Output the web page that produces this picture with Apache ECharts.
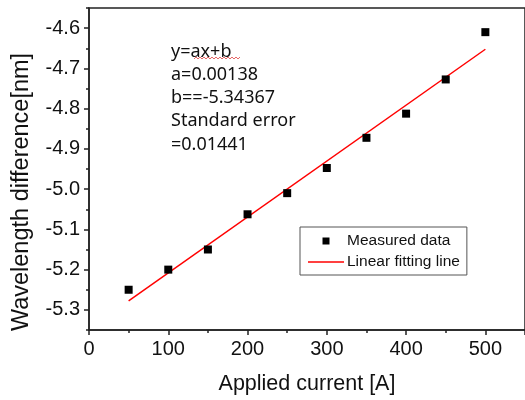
<!DOCTYPE html>
<html>
<head>
<meta charset="utf-8">
<script src="https://cdn.jsdelivr.net/npm/echarts@6/dist/echarts.min.js"></script>
<style>
  html, body { margin: 0; padding: 0; background: #fff; }
  #chart { width: 525px; height: 400px; }
</style>
</head>
<body>
<div id="chart"></div>
<script>
// measured points
const currents = [50, 100, 150, 200, 250, 300, 350, 400, 450, 500]
const wavelengthDiff = [-5.25, -5.20, -5.15, -5.0625, -5.01, -4.9475, -4.8725, -4.8125, -4.7275, -4.61]
// fitted line end points
const fitX = [50, 500]
const fitY = [-5.2775, -4.6525]
const yTicks = [-5.3, -5.2, -5.1, -5.0, -4.9, -4.8, -4.7, -4.6]
const fitText = ['y=ax+b', 'a=0.00138', 'b==-5.34367', 'Standard error', '=0.01441']

const chart = echarts.init(document.getElementById('chart'))

const axisFont = { color: '#111', fontSize: 20, fontFamily: 'Liberation Sans' }
const tickStyle = { color: '#222', width: 1.5 }

// spell-check squiggle under "ax+b"
const squiggle = []
for (let x = 194; x <= 240; x += 2) squiggle.push([x, (x / 2) % 2 === 0 ? 57 : 59])

chart.setOption({
  animation: false,
  grid: {
    left: 89,
    right: -4,
    top: 8,
    bottom: 69,
    show: true,
    borderColor: '#222',
    borderWidth: 1.5,
  },
  legend: {
    orient: 'vertical',
    left: 300,
    top: 227,
    padding: [6, 7, 5, 8],
    itemGap: 5,
    itemWidth: 36,
    itemHeight: 14,
    borderColor: '#555',
    borderWidth: 1,
    textStyle: { color: '#111', fontSize: 15.5, fontFamily: 'Liberation Sans', padding: [0, 0, 0, -2] },
    data: [
      { name: 'Measured data', icon: 'path://M0,0 M36,14 M14.5,3.5 L21.5,3.5 L21.5,10.5 L14.5,10.5 Z' },
      { name: 'Linear fitting line', icon: 'path://M0,0 M36,14 M0,6.2 L36,6.2 L36,7.8 L0,7.8 Z' },
    ],
  },
  xAxis: {
    type: 'value',
    min: 0,
    max: 550,
    interval: 100,
    name: 'Applied current [A]',
    nameLocation: 'middle',
    nameGap: 43,
    nameTextStyle: { color: '#111', fontSize: 21.5, fontFamily: 'Liberation Sans' },
    axisLine: { lineStyle: tickStyle },
    axisTick: { length: 5, lineStyle: tickStyle },
    minorTick: { show: true, splitNumber: 2, length: 3, lineStyle: tickStyle },
    axisLabel: { ...axisFont, margin: 9, showMaxLabel: false },
    splitLine: { show: false },
  },
  yAxis: [
    {
      type: 'value',
      min: -5.35,
      max: -4.55,
      interval: 0.05,
      name: 'Wavelength difference[nm]',
      nameLocation: 'middle',
      nameGap: 55,
      nameTextStyle: { color: '#111', fontSize: 23.5, fontFamily: 'Liberation Sans', padding: [0, 46, 0, 0] },
      axisLine: { lineStyle: tickStyle },
      axisTick: { length: 5, lineStyle: tickStyle, customValues: yTicks },
      axisLabel: {
        ...axisFont,
        margin: 9,
        customValues: yTicks,
        formatter: v => {
          const r = Math.round(v * 10) / 10
          if (Math.abs(v - r) > 1e-6) return ''
          return r.toFixed(1)
        },
      },
      splitLine: { show: false },
    },
    {
      // minor ticks every 0.05
      type: 'value',
      min: -5.35,
      max: -4.55,
      interval: 0.05,
      position: 'left',
      axisLine: { show: false },
      axisTick: { length: 3, lineStyle: tickStyle },
      axisLabel: { show: false },
      splitLine: { show: false },
    },
  ],
  graphic: [
    {
      type: 'text',
      left: 171,
      top: 40,
      style: {
        text: fitText.join('\n'),
        fontSize: 18,
        lineHeight: 23.2,
        fontFamily: 'Noto Sans',
        fill: '#111',
      },
    },
    {
      type: 'polyline',
      shape: { points: squiggle },
      style: { stroke: '#e04040', lineWidth: 0.8, fill: null },
    },
  ],
  series: [
    {
      name: 'Measured data',
      type: 'scatter',
      symbol: 'rect',
      symbolSize: 8,
      itemStyle: { color: '#000', opacity: 1 },
      data: currents.map((x, i) => [x, wavelengthDiff[i]]),
      z: 3,
    },
    {
      name: 'Linear fitting line',
      type: 'line',
      symbol: 'none',
      lineStyle: { color: '#ff0000', width: 1.5 },
      itemStyle: { color: '#ff0000' },
      data: fitX.map((x, i) => [x, fitY[i]]),
      z: 2,
    },
  ],
})
</script>
</body>
</html>
